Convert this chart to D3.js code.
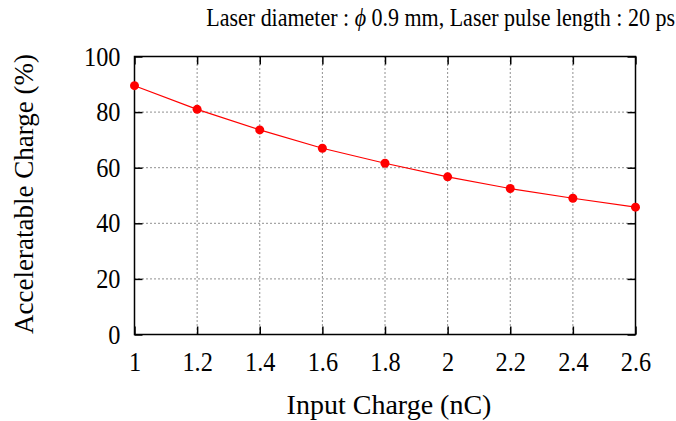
<!DOCTYPE html>
<html><head><meta charset="utf-8">
<script src="https://cdn.jsdelivr.net/npm/d3@7"></script>
<style>body{margin:0;background:#fff}svg{display:block}text{font-family:"Liberation Serif","Times New Roman",serif;fill:#000}</style>
</head><body><svg id="c" width="676" height="421"></svg>
<script>
const inputCharge = [1.0, 1.2, 1.4, 1.6, 1.8, 2.0, 2.2, 2.4, 2.6];
const accelCharge = [89.5, 81.0, 73.6, 67.0, 61.6, 56.7, 52.5, 49.0, 45.8];
const xTicks = [1, 1.2, 1.4, 1.6, 1.8, 2, 2.2, 2.4, 2.6];
const yTicks = [0, 20, 40, 60, 80, 100];
const titleParts = ["Laser diameter : ", "\u03D5", " 0.9 mm, Laser pulse length : 20 ps"];
const xLabel = "Input Charge (nC)";
const yLabel = "Acceleratable Charge (%)";

const svg = d3.select("#c");
const L = 134.5, R = 635.5, T = 56.5, B = 334.5;
const x = d3.scaleLinear().domain([1, 2.6]).range([L, R]);
const y = d3.scaleLinear().domain([0, 100]).range([B, T]);

function squish(sel, sx, origin) {
  sel.style("transform-box", "fill-box").style("transform-origin", origin)
     .style("transform", `scaleX(${sx})`);
}

// grid
const g = svg.append("g");
g.selectAll(".gx").data(xTicks.slice(1, -1)).join("line")
  .attr("x1", d => x(d)).attr("x2", d => x(d)).attr("y1", T).attr("y2", B)
  .attr("stroke", "#222").attr("stroke-width", 1).attr("stroke-dasharray", "1,3");
g.selectAll(".gy").data(yTicks.slice(1, -1)).join("line")
  .attr("y1", d => y(d)).attr("y2", d => y(d)).attr("x1", L).attr("x2", R)
  .attr("stroke", "#222").attr("stroke-width", 1).attr("stroke-dasharray", "1,3");

// axes (ticks inward, mirrored)
const fs = 27;
const ax = svg.append("g").attr("transform", `translate(0,${B})`)
  .call(d3.axisBottom(x).tickValues(xTicks).tickSize(-8).tickPadding(17).tickFormat(d3.format("")));
const ax2 = svg.append("g").attr("transform", `translate(0,${T})`)
  .call(d3.axisTop(x).tickValues(xTicks).tickSize(-8).tickFormat(""));
const ay = svg.append("g").attr("transform", `translate(${L},0)`)
  .call(d3.axisLeft(y).tickValues(yTicks).tickSize(-8).tickPadding(14));
const ay2 = svg.append("g").attr("transform", `translate(${R},0)`)
  .call(d3.axisRight(y).tickValues(yTicks).tickSize(-8).tickFormat(""));
[ax, ax2, ay, ay2].forEach(a => {
  a.select(".domain").remove();
  a.selectAll("line").attr("stroke", "#000").attr("stroke-width", 1.5);
  a.selectAll("text").attr("font-size", fs).attr("font-family", "Liberation Serif");
});
squish(ax.selectAll("text"), 0.9, "center");
squish(ay.selectAll("text"), 0.9, "right");
svg.append("rect").attr("x", L).attr("y", T).attr("width", R - L).attr("height", B - T)
  .attr("fill", "none").attr("stroke", "#000").attr("stroke-width", 1.5);

// line + points
svg.append("path").datum(inputCharge.map((d, i) => [d, accelCharge[i]]))
  .attr("d", d3.line().x(d => x(d[0])).y(d => y(d[1])))
  .attr("fill", "none").attr("stroke", "#ff0000").attr("stroke-width", 1.2);
svg.selectAll(".pt").data(inputCharge).join("circle")
  .attr("cx", d => x(d)).attr("cy", (d, i) => y(accelCharge[i])).attr("r", 4.5).attr("fill", "#ff0000");

// labels
const t = svg.append("text").attr("x", 675).attr("y", 26).attr("text-anchor", "end").attr("font-size", 25);
t.append("tspan").text(titleParts[0]);
t.append("tspan").attr("font-style", "italic").text(titleParts[1]);
t.append("tspan").text(titleParts[2]);
squish(t, 0.88, "right");
svg.append("text").attr("x", 389).attr("y", 414).attr("text-anchor", "middle").attr("font-size", 28).text(xLabel);
svg.append("text").attr("transform", `translate(33,194) rotate(-90)`)
  .attr("text-anchor", "middle").attr("font-size", 27).text(yLabel);
</script></body></html>
